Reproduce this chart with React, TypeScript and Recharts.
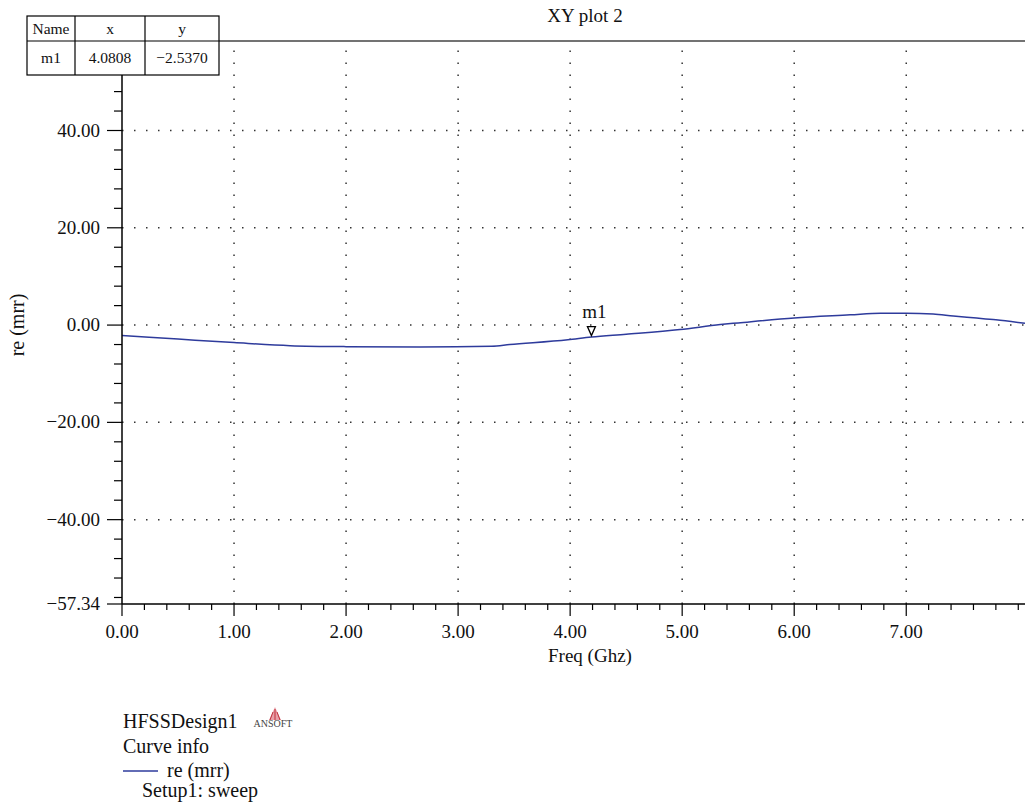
import React from 'react';
import { LineChart, Line, XAxis, YAxis, ReferenceLine, ReferenceDot } from 'recharts';

const FREQ = [0, 0.5, 1, 1.5, 2, 2.66, 3.3, 3.46, 3.98, 4.19, 4.5, 4.98, 5.34, 5.5, 6, 6.5, 6.77, 7, 7.24, 7.42, 7.6, 7.8, 8.06];
const RE_MRR = [-2.16, -2.88, -3.6, -4.23, -4.43, -4.5, -4.33, -4.0, -3.0, -2.47, -1.9, -0.93, 0.1, 0.45, 1.48, 2.1, 2.43, 2.43, 2.3, 1.86, 1.49, 1.08, 0.37];

const X_MAJOR = [0, 1, 2, 3, 4, 5, 6, 7];
const X_TICKS = Array.from({ length: 41 }, (_, i) => Number((i * 0.2).toFixed(1)));
const Y_MAJOR = [-57.34, -40, -20, 0, 20, 40];
const Y_MINOR = Array.from({ length: 29 }, (_, i) => -56 + i * 4);
const Y_TICKS = [...Y_MAJOR, ...Y_MINOR.filter((v) => v % 20 !== 0)].sort((a, b) => a - b);
const GRID_X = [1, 2, 3, 4, 5, 6, 7];
const GRID_Y = [-40, -20, 0, 20, 40];

const MARKER = { name: 'm1', x: 4.19, y: -2.47, tableX: '4.0808', tableY: '−2.5370' };

const X_MAX = 8.06;
const Y_MIN = -57.34;
const Y_MAX = 58.4;

const FONT = '"Liberation Serif", "DejaVu Serif", serif';
const LINE_COLOR = '#2e3b9c';

const data = FREQ.map((f, i) => ({ f, v: RE_MRR[i] }));

const XTick = (props: any) => {
    const { x, y, payload } = props;
    const major = X_MAJOR.includes(payload.value);
    return (
        <g>
            <line x1={x} x2={x} y1={y} y2={y + (major ? 12 : 6)} stroke="#000" strokeWidth={1.2} />
            {major && (
                <text x={x} y={y + 34} textAnchor="middle" fontSize={19} fontFamily={FONT} fill="#111">
                    {payload.value.toFixed(2)}
                </text>
            )}
        </g>
    );
};

const YTick = (props: any) => {
    const { x, y, payload } = props;
    const major = Y_MAJOR.includes(payload.value);
    const label = payload.value < 0 ? '−' + Math.abs(payload.value).toFixed(2) : payload.value.toFixed(2);
    return (
        <g>
            <line x1={x - (major ? 15 : 8)} x2={x} y1={y} y2={y} stroke="#000" strokeWidth={1.2} />
            {major && (
                <text x={x - 22} y={y + 6} textAnchor="end" fontSize={19} fontFamily={FONT} fill="#111">
                    {label}
                </text>
            )}
        </g>
    );
};

const markerShape = (props: any) => {
    const { cx, cy } = props;
    return (
        <g>
            <polygon
                points={`${cx - 4},${cy - 10.5} ${cx + 4},${cy - 10.5} ${cx},${cy - 1.5}`}
                fill="#fff"
                stroke="#000"
                strokeWidth={1.3}
            />
            <text x={cx + 3} y={cy - 19} textAnchor="middle" fontSize={19} fontFamily={FONT} fill="#111">
                {MARKER.name}
            </text>
        </g>
    );
};

export default function App() {
    return (
        <div style={{ position: 'absolute', left: 0, top: 0, width: 1025, height: 808, background: '#fff' }}>
            <LineChart
                width={1025}
                height={808}
                data={data}
                margin={{ top: 41, right: 0, bottom: 164, left: 42 }}
            >
                <XAxis
                    type="number"
                    dataKey="f"
                    domain={[0, X_MAX]}
                    allowDataOverflow
                    ticks={X_TICKS}
                    interval={0}
                    height={40}
                    tickSize={0}
                    tickMargin={0}
                    tickLine={false}
                    axisLine={{ stroke: '#000', strokeWidth: 1.5 }}
                    tick={<XTick />}
                />
                <YAxis
                    type="number"
                    domain={[Y_MIN, Y_MAX]}
                    allowDataOverflow
                    ticks={Y_TICKS}
                    interval={0}
                    width={80}
                    tickSize={0}
                    tickMargin={0}
                    tickLine={false}
                    axisLine={{ stroke: '#000', strokeWidth: 1.5 }}
                    tick={<YTick />}
                />
                {GRID_X.map((g) => (
                    <ReferenceLine key={'gx' + g} x={g} stroke="#333" strokeWidth={1.5} strokeDasharray="1.5 10.5" />
                ))}
                {GRID_Y.map((g) => (
                    <ReferenceLine key={'gy' + g} y={g} stroke="#333" strokeWidth={1.5} strokeDasharray="1.5 10.5" />
                ))}
                <Line
                    type="monotone"
                    dataKey="v"
                    stroke={LINE_COLOR}
                    strokeWidth={1.5}
                    dot={false}
                    isAnimationActive={false}
                />
                <ReferenceDot x={MARKER.x} y={MARKER.y} shape={markerShape} />
            </LineChart>

            <svg
                width={1025}
                height={808}
                style={{ position: 'absolute', left: 0, top: 0, pointerEvents: 'none' }}
                fontFamily={FONT}
            >
                {/* plot frame top */}
                <line x1={219} x2={1025} y1={41} y2={41} stroke="#444" strokeWidth={1.5} />

                {/* marker table */}
                <rect x={27} y={16} width={192} height={59} fill="#fff" stroke="#000" strokeWidth={1.2} />
                <line x1={27} x2={219} y1={41} y2={41} stroke="#000" strokeWidth={1.2} />
                <line x1={75} x2={75} y1={16} y2={75} stroke="#000" strokeWidth={1.2} />
                <line x1={145} x2={145} y1={16} y2={75} stroke="#000" strokeWidth={1.2} />
                <g fontSize={15.5} fill="#111" textAnchor="middle">
                    <text x={51} y={34}>Name</text>
                    <text x={110} y={34}>x</text>
                    <text x={182} y={34}>y</text>
                    <text x={51} y={63}>{MARKER.name}</text>
                    <text x={110} y={63}>{MARKER.tableX}</text>
                    <text x={182} y={63}>{MARKER.tableY}</text>
                </g>

                {/* titles */}
                <text x={585} y={22} textAnchor="middle" fontSize={19} fill="#111">XY plot 2</text>
                <text x={590} y={662} textAnchor="middle" fontSize={19} fill="#111">Freq (Ghz)</text>
                <text x={24} y={325} transform="rotate(-90 24 325)" textAnchor="middle" fontSize={20} fill="#111">
                    re (mrr)
                </text>

                {/* curve info */}
                <g fontSize={20} fill="#111">
                    <text x={123} y={728}>HFSSDesign1</text>
                    <text x={123} y={753}>Curve info</text>
                    <line x1={123} x2={158} y1={771} y2={771} stroke={LINE_COLOR} strokeWidth={1.5} />
                    <text x={167} y={777}>re (mrr)</text>
                    <text x={142} y={797}>Setup1: sweep</text>
                </g>

                {/* logo */}
                <g>
                    <polygon points="275,707 269,720 281,720" fill="#e8a0a8" />
                    <line x1={273} x2={270} y1={712} y2={720} stroke="#c0303c" strokeWidth={1} />
                    <line x1={275} x2={275} y1={709} y2={720} stroke="#c0303c" strokeWidth={1} />
                    <line x1={277} x2={280} y1={712} y2={720} stroke="#c0303c" strokeWidth={1} />
                    <text x={273} y={727} textAnchor="middle" fontSize={10} fill="#444">ANSOFT</text>
                </g>
            </svg>
        </div>
    );
}
